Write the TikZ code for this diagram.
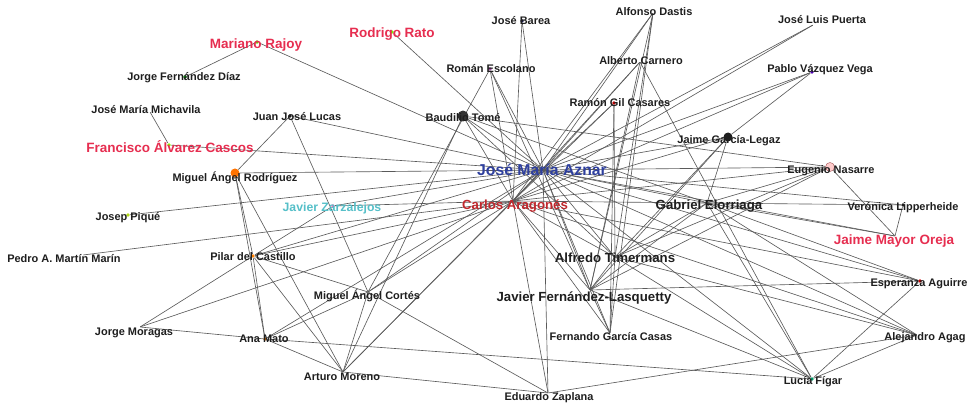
\documentclass[tikz,border=0pt]{standalone}
\usepackage{fontspec}
\setmainfont{Liberation Sans}
\usetikzlibrary{backgrounds}
\definecolor{PpInk}{HTML}{1E1E1E}
\definecolor{PpRed}{HTML}{E62E50}
\definecolor{PpDarkRed}{HTML}{C0282D}
\definecolor{PpBlue}{HTML}{2E3F9E}
\definecolor{PpTeal}{HTML}{55BFC8}
\definecolor{PpLine}{HTML}{5A5A5A}
\tikzset{
  pname/.style={
    font=\fontsize{7.8}{9}\selectfont\bfseries,
    text=PpInk,
    inner sep=0pt
  },
  pbig/.style={
    pname,
    font=\fontsize{9.4}{11}\selectfont\bfseries
  },
  pred/.style={
    pname,
    font=\fontsize{9.6}{11}\selectfont\bfseries,
    text=PpRed
  },
  pmark/.style={circle,inner sep=0pt,minimum size=2.8pt,fill=#1},
  pbigmark/.style={pmark=#1,minimum size=6.4pt},
  pnone/.style={inner sep=0pt,minimum size=0pt},
  ptie/.style={draw=PpLine,line width=0.45pt}
}

\begin{document}
\begin{tikzpicture}[x=0.025cm,y=-0.025cm]
  \useasboundingbox (0,0) rectangle (973,405);
  % people: a point where the ties meet, then the name
  \node[pmark=green!50!yellow!80!black] (rajoy) at (257,42) {};
  \node[pred] (rajoy-t) at (256,45) {Mariano Rajoy};
  \node[pmark=green!60!yellow] (rato) at (392,32) {};
  \node[pred] (rato-t) at (392,34) {Rodrigo Rato};
  \node[pmark=PpInk!80!blue] (barea) at (522,21) {};
  \node[pname] (barea-t) at (521,21) {José Barea};
  \node[pnone] (dastis) at (653,13) {};
  \node[pname] (dastis-t) at (654,12) {Alfonso Dastis};
  \node[pnone] (puerta) at (813,25) {};
  \node[pname] (puerta-t) at (822,20) {José Luis Puerta};
  \node[pmark=green!50!black] (fdiaz) at (185,77) {};
  \node[pname] (fdiaz-t) at (184,78) {Jorge Fernández Díaz};
  \node[pmark=violet!70] (escolano) at (490,69) {};
  \node[pname] (escolano-t) at (491,69) {Román Escolano};
  \node[pnone] (carnero) at (640,62) {};
  \node[pname] (carnero-t) at (641,61) {Alberto Carnero};
  \node[pmark=violet!60!blue] (vazquez) at (812,72) {};
  \node[pname] (vazquez-t) at (820,70) {Pablo Vázquez Vega};
  \node[pnone] (michavila) at (150,112) {};
  \node[pname] (michavila-t) at (146,110) {José María Michavila};
  \node[pmark=PpInk] (lucas) at (290,116) {};
  \node[pname] (lucas-t) at (297,117) {Juan José Lucas};
  \node[pmark=red!75!black] (gil) at (614,103) {};
  \node[pname] (gil-t) at (620,103) {Ramón Gil Casares};
  \node[pbigmark=black!80,minimum size=7.8pt] (tome) at (463,116) {};
  \node[pname] (tome-t) at (463,118) {Baudilio Tomé};
  \node[pbigmark=PpInk] (legaz) at (728,137) {};
  \node[pname] (legaz-t) at (729,141) {Jaime García-Legaz};
  \node[pmark=green!50!yellow] (cascos) at (169,145) {};
  \node[pred] (cascos-t) at (170,147) {Francisco Álvarez Cascos};
  \node[pbigmark=orange!90!red] (rodriguez) at (235,173) {};
  \node[pname] (rodriguez-t) at (235,178) {Miguel Ángel Rodríguez};
  \node[pnone] (aznar) at (543,170) {};
  \node[pred,text=PpBlue,font=\fontsize{11.2}{13}\selectfont\bfseries] (aznar-t) at (542,170) {José María Aznar};
  \node[pbigmark=pink!80,draw=red!30!gray,line width=0.3pt] (nasarre) at (830,167) {};
  \node[pname] (nasarre-t) at (831,171) {Eugenio Nasarre};
  \node[pmark=magenta!60] (zarzalejos) at (333,206) {};
  \node[pred,text=PpTeal,font=\fontsize{8.7}{10}\selectfont\bfseries] (zarzalejos-t) at (332,208) {Javier Zarzalejos};
  \node[pnone] (aragones) at (513,201) {};
  \node[pred,text=PpDarkRed,font=\fontsize{9.4}{11}\selectfont\bfseries] (aragones-t) at (515,206) {Carlos Aragonés};
  \node[pnone] (elorriaga) at (707,203) {};
  \node[pbig] (elorriaga-t) at (709,206) {Gabriel Elorriaga};
  \node[pmark=PpInk] (lipperheide) at (903,205) {};
  \node[pname] (lipperheide-t) at (903,208) {Verónica Lipperheide};
  \node[pmark=yellow!70!green] (pique) at (128,215) {};
  \node[pname] (pique-t) at (128,218) {Josep Piqué};
  \node[pnone] (mayor) at (895,236) {};
  \node[pred] (mayor-t) at (894,241) {Jaime Mayor Oreja};
  \node[pnone] (martin) at (83,255) {};
  \node[pname] (martin-t) at (64,259) {Pedro A. Martín Marín};
  \node[pmark=orange] (castillo) at (253,256) {};
  \node[pname] (castillo-t) at (253,257) {Pilar del Castillo};
  \node[pnone] (timermans) at (615,257) {};
  \node[pbig] (timermans-t) at (615,258) {Alfredo Timermans};
  \node[pnone] (lasquetty) at (590,290) {};
  \node[pbig] (lasquetty-t) at (584,298) {Javier Fernández-Lasquetty};
  \node[pmark=red!80!black] (aguirre) at (920,281) {};
  \node[pname] (aguirre-t) at (919,284) {Esperanza Aguirre};
  \node[pnone] (cortes) at (368,292) {};
  \node[pname] (cortes-t) at (367,296) {Miguel Ángel Cortés};
  \node[pnone] (moragas) at (140,327) {};
  \node[pname] (moragas-t) at (134,333) {Jorge Moragas};
  \node[pnone] (gcasas) at (610,333) {};
  \node[pname] (gcasas-t) at (611,337) {Fernando García Casas};
  \node[pmark=orange!70!black] (mato) at (265,339) {};
  \node[pname] (mato-t) at (264,339) {Ana Mato};
  \node[pnone] (agag) at (917,335) {};
  \node[pname] (agag-t) at (925,338) {Alejandro Agag};
  \node[pnone] (moreno) at (343,372) {};
  \node[pname] (moreno-t) at (342,377) {Arturo Moreno};
  \node[pmark=teal!80!green] (figar) at (812,379) {};
  \node[pname] (figar-t) at (813,382) {Lucía Fígar};
  \node[pnone] (zaplana) at (548,393) {};
  \node[pname] (zaplana-t) at (549,398) {Eduardo Zaplana};

  \begin{scope}[on background layer]
    % ties of the centre
    \draw[ptie] (aznar) -- (rajoy);
    \draw[ptie] (aznar) -- (rato);
    \draw[ptie] (aznar) -- (barea);
    \draw[ptie] (aznar) -- (escolano);
    \draw[ptie] (aznar) -- (tome);
    \draw[ptie] (aznar) -- (lucas);
    \draw[ptie] (aznar) -- (cascos);
    \draw[ptie] (aznar) -- (rodriguez);
    \draw[ptie] (aznar) -- (pique);
    \draw[ptie] (aznar) -- (zarzalejos);
    \draw[ptie] (aznar) -- (aragones);
    \draw[ptie] (aznar) -- (carnero);
    \draw[ptie] (aznar) -- (dastis);
    \draw[ptie] (aznar) -- (gil);
    \draw[ptie] (aznar) -- (puerta);
    \draw[ptie] (aznar) -- (vazquez);
    \draw[ptie] (aznar) -- (legaz);
    \draw[ptie] (aznar) -- (nasarre);
    \draw[ptie] (aznar) -- (lipperheide);
    \draw[ptie] (aznar) -- (elorriaga);
    \draw[ptie] (aznar) -- (mayor);
    \draw[ptie] (aznar) -- (timermans);
    \draw[ptie] (aznar) -- (lasquetty);
    \draw[ptie] (aznar) -- (gcasas);
    \draw[ptie] (aznar) -- (zaplana);
    \draw[ptie] (aznar) -- (aguirre);
    \draw[ptie] (aznar) -- (agag);
    \draw[ptie] (aznar) -- (figar);
    \draw[ptie] (aznar) -- (cortes);
    \draw[ptie] (aznar) -- (castillo);
    \draw[ptie] (aznar) -- (mato);
    \draw[ptie] (aznar) -- (moreno);
    \draw[ptie] (aragones) -- (tome);
    \draw[ptie] (aragones) -- (escolano);
    \draw[ptie] (aragones) -- (barea);
    \draw[ptie] (aragones) -- (dastis);
    \draw[ptie] (aragones) -- (carnero);
    \draw[ptie] (aragones) -- (gil);
    \draw[ptie] (aragones) -- (puerta);
    \draw[ptie] (aragones) -- (vazquez);
    \draw[ptie] (aragones) -- (legaz);
    \draw[ptie] (aragones) -- (nasarre);
    \draw[ptie] (aragones) -- (elorriaga);
    \draw[ptie] (aragones) -- (timermans);
    \draw[ptie] (aragones) -- (lasquetty);
    \draw[ptie] (aragones) -- (gcasas);
    \draw[ptie] (aragones) -- (zaplana);
    \draw[ptie] (aragones) -- (agag);
    \draw[ptie] (aragones) -- (aguirre);
    \draw[ptie] (aragones) -- (castillo);
    \draw[ptie] (aragones) -- (cortes);
    \draw[ptie] (aragones) -- (moreno);
    \draw[ptie] (aragones) -- (moragas);
    \draw[ptie] (aragones) -- (martin);
    \draw[ptie] (aragones) -- (zarzalejos);
    % ties of the rest
    \draw[ptie] (rajoy) -- (fdiaz);
    \draw[ptie] (michavila) -- (cascos);
    \draw[ptie] (lucas) -- (rodriguez);
    \draw[ptie] (lucas) -- (cortes);
    \draw[ptie] (rodriguez) -- (castillo);
    \draw[ptie] (rodriguez) -- (mato);
    \draw[ptie] (rodriguez) -- (moreno);
    \draw[ptie] (escolano) -- (cortes);
    \draw[ptie] (escolano) -- (lasquetty);
    \draw[ptie] (tome) -- (nasarre);
    \draw[ptie] (tome) -- (elorriaga);
    \draw[ptie] (tome) -- (timermans);
    \draw[ptie] (tome) -- (moreno);
    \draw[ptie] (dastis) -- (lasquetty);
    \draw[ptie] (dastis) -- (gcasas);
    \draw[ptie] (dastis) -- (timermans);
    \draw[ptie] (carnero) -- (figar);
    \draw[ptie] (carnero) -- (lasquetty);
    \draw[ptie] (gil) -- (gcasas);
    \draw[ptie] (gil) -- (timermans);
    \draw[ptie] (vazquez) -- (legaz);
    \draw[ptie] (legaz) -- (timermans);
    \draw[ptie] (legaz) -- (lasquetty);
    \draw[ptie] (legaz) -- (elorriaga);
    \draw[ptie] (nasarre) -- (elorriaga);
    \draw[ptie] (nasarre) -- (timermans);
    \draw[ptie] (nasarre) -- (lasquetty);
    \draw[ptie] (nasarre) -- (mayor);
    \draw[ptie] (lipperheide) -- (mayor);
    \draw[ptie] (lipperheide) -- (elorriaga);
    \draw[ptie] (elorriaga) -- (mayor);
    \draw[ptie] (elorriaga) -- (timermans);
    \draw[ptie] (elorriaga) -- (lasquetty);
    \draw[ptie] (elorriaga) -- (aguirre);
    \draw[ptie] (elorriaga) -- (agag);
    \draw[ptie] (elorriaga) -- (figar);
    \draw[ptie] (timermans) -- (lasquetty);
    \draw[ptie] (timermans) -- (agag);
    \draw[ptie] (timermans) -- (gcasas);
    \draw[ptie] (timermans) -- (figar);
    \draw[ptie] (lasquetty) -- (gcasas);
    \draw[ptie] (lasquetty) -- (aguirre);
    \draw[ptie] (lasquetty) -- (figar);
    \draw[ptie] (aguirre) -- (figar);
    \draw[ptie] (agag) -- (figar);
    \draw[ptie] (agag) -- (zaplana);
    \draw[ptie] (mato) -- (figar);
    \draw[ptie] (mato) -- (moragas);
    \draw[ptie] (mato) -- (moreno);
    \draw[ptie] (mato) -- (cortes);
    \draw[ptie] (zaplana) -- (moreno);
    \draw[ptie] (zaplana) -- (cortes);
    \draw[ptie] (cortes) -- (castillo);
    \draw[ptie] (cortes) -- (moreno);
    \draw[ptie] (castillo) -- (zarzalejos);
    \draw[ptie] (castillo) -- (mato);
    \draw[ptie] (castillo) -- (moreno);
    \draw[ptie] (castillo) -- (moragas);
  \end{scope}
\end{tikzpicture}
\end{document}
